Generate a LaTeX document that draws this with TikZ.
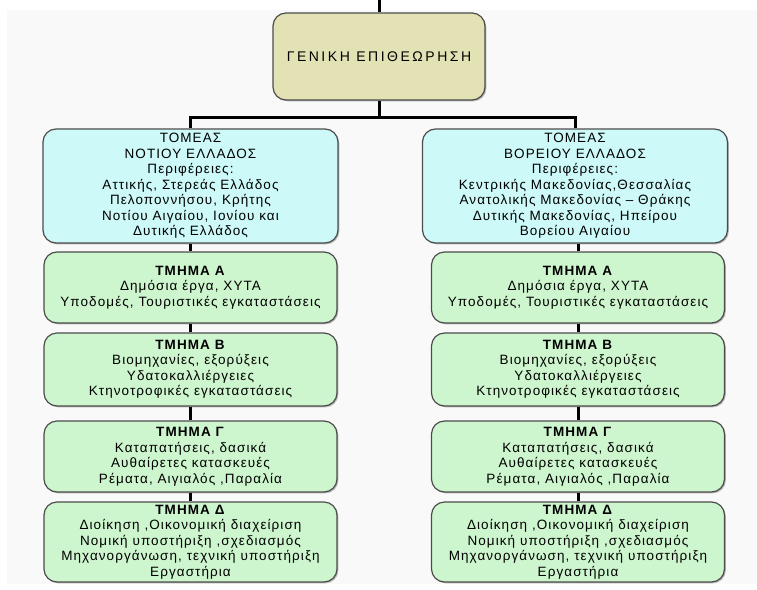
\documentclass[tikz,border=0pt]{standalone}
\usepackage{fontspec}
\setmainfont{Liberation Sans}[LetterSpace=8]
\usetikzlibrary{shadows}
\definecolor{khaki}{RGB}{227,226,180}
\definecolor{lblue}{RGB}{206,249,249}
\definecolor{lgreen}{RGB}{206,246,206}
\definecolor{bggray}{RGB}{249,249,249}
\begin{document}
\begin{tikzpicture}[x=1pt,y=-1pt,
  box/.style={draw=black!70, line width=1.2pt, rounded corners=13pt, align=center,
    inner sep=0pt, font=\fontsize{13.5}{15.5}\selectfont,
    drop shadow={shadow xshift=1.3pt, shadow yshift=-1.3pt, fill=black!40, opacity=0.7}},
  topbox/.style={box, fill=khaki, minimum width=212pt, minimum height=87pt},
  sector/.style={box, fill=lblue, minimum height=114pt},
  dept/.style={box, fill=lgreen, minimum width=293pt},
  conn/.style={line width=3pt, black}]
\useasboundingbox (0,0) rectangle (757,589);
\fill[bggray] (7,10) rectangle (757,584);

\node[topbox] (top) at (379,56.5) {\addfontfeatures{LetterSpace=18}\fontsize{14}{16}\selectfont ΓΕΝΙΚΗ ΕΠΙΘΕΩΡΗΣΗ};

\node[sector, minimum width=295pt] (bL) at (190.5,186) {ΤΟΜΕΑΣ\\ΝΟΤΙΟΥ ΕΛΛΑΔΟΣ\\Περιφέρειες:\\Αττικής, Στερεάς Ελλάδος\\Πελοποννήσου, Κρήτης\\Νοτίου Αιγαίου, Ιονίου και\\Δυτικής Ελλάδος};
\node[sector, minimum width=305pt] (bR) at (575,186) {ΤΟΜΕΑΣ\\ΒΟΡΕΙΟΥ ΕΛΛΑΔΟΣ\\Περιφέρειες:\\Κεντρικής Μακεδονίας,Θεσσαλίας\\Ανατολικής Μακεδονίας – Θράκης\\Δυτικής Μακεδονίας, Ηπείρου\\Βορείου Αιγαίου};

\foreach \s/\cx in {L/190.5, R/578}{
  \node[dept, minimum height=71pt] (g\s A) at (\cx,287.5) {\textbf{ΤΜΗΜΑ Α}\\Δημόσια έργα, ΧΥΤΑ\\Υποδομές, Τουριστικές εγκαταστάσεις};
  \node[dept, minimum height=73pt] (g\s B) at (\cx,369.5) {\textbf{ΤΜΗΜΑ Β}\\Βιομηχανίες, εξορύξεις\\Υδατοκαλλιέργειες\\Κτηνοτροφικές εγκαταστάσεις};
  \node[dept, minimum height=71pt] (g\s C) at (\cx,456.5) {\textbf{ΤΜΗΜΑ Γ}\\Καταπατήσεις, δασικά\\Αυθαίρετες κατασκευές\\Ρέματα, Αιγιαλός ,Παραλία};
  \node[dept, minimum height=80pt] (g\s D) at (\cx,542) {\textbf{ΤΜΗΜΑ Δ}\\Διοίκηση ,Οικονομική διαχείριση\\Νομική υποστήριξη ,σχεδιασμός\\Μηχανοργάνωση, τεχνική υποστήριξη\\Εργαστήρια};
}

\coordinate (topin) at (379,0);
\coordinate (bar) at (379,117);
\draw[conn] (topin) -- (top.north);
\draw[conn] (top.south) -- (bar);
\draw[conn] (bar) -| (bL.north);
\draw[conn] (bar) -| (bR.north);
\foreach \s/\b in {L/bL, R/bR}{
  \draw[conn] (g\s A.north) -- (g\s A.north |- \b.south);
  \draw[conn] (g\s A) -- (g\s B) (g\s B) -- (g\s C) (g\s C) -- (g\s D);
}
\end{tikzpicture}
\end{document}
